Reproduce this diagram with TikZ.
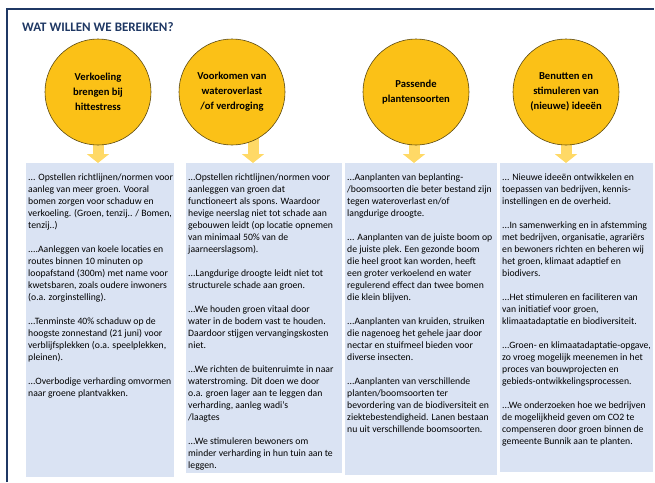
\documentclass[tikz,border=0pt]{standalone}
\usepackage{fontspec}
\setmainfont{Carlito}
\usetikzlibrary{arrows.meta,backgrounds}
\definecolor{navy}{HTML}{1F3864}
\definecolor{goud}{HTML}{FBC117}
\definecolor{lichtgoud}{HTML}{FFD966}
\definecolor{lichtblauw}{HTML}{DAE3F3}
\definecolor{rand}{HTML}{5C4A12}

\begin{document}
\begin{tikzpicture}
        [%%%%%%%%%%%%%%%%%%%%%%%%%%%%%%
        x=1pt, y=-1pt,
        kader/.style={draw=navy, line width=1.6pt},
        titel/.style={font=\fontsize{13}{15}\selectfont\bfseries, text=navy, inner sep=0pt, anchor=west},
        doel/.style={circle, draw=rand, fill=goud, line width=0.6pt, minimum size=106pt, inner sep=0pt,
          align=center, font=\fontsize{10.6}{15}\selectfont\bfseries},
        vak/.style={fill=lichtblauw, inner sep=0pt, anchor=north west},
        tekst/.style={inner sep=0pt, anchor=north west, align=left, font=\fontsize{9.7}{12}\selectfont},
        pijl/.style={draw=lichtgoud, line width=11pt, -{Triangle[width=22pt,length=9pt]}},
        ]%%%%%%%%%%%%%%%%%%%%%%%%%%%%%%
        \useasboundingbox (0,0) rectangle (655,482);
        % Frame and title
        \draw[kader] (7,482) -- (7,9) -- (654,9);
        \node[titel] (titel) at (22,27) {WAT WILLEN WE BEREIKEN?};
        % Goals
        \foreach \i/\x/\t in {1/98/{Verkoeling\\brengen bij\\hittestress},
                              2/232/{Voorkomen van\\wateroverlast\\/of verdroging},
                              3/416/{Passende\\plantensoorten},
                              4/566/{Benutten en\\stimuleren van\\(nieuwe) ideeën}}{
          \node[doel] (doel\i) at (\x,92) {\t};
        }
        % Blue boxes
        \node[vak, minimum width=148pt, minimum height=314pt] (box1) at (26,163) {};
        \node[vak, minimum width=156pt, minimum height=310pt] (box2) at (186,163) {};
        \node[vak, minimum width=152pt, minimum height=312pt] (box3) at (345,163) {};
        \node[vak, minimum width=153pt, minimum height=309pt] (box4) at (500,163) {};
        % Arrows
        \begin{scope}[on background layer]
          \foreach \i/\dx in {1/0,2/21,3/-2,4/0}{
            \draw[pijl] ([xshift=\dx pt, yshift=8pt]doel\i.south) -- ([xshift=\dx pt]doel\i.south |- box\i.north);
          }
        \end{scope}
        % Text
        \node[tekst] (tekst1) at ([xshift=2pt, yshift=-11pt]box1.north west) {%
          ... Opstellen richtlijnen/normen voor\\
          aanleg van meer groen. Vooral\\
          bomen zorgen voor schaduw en\\
          verkoeling. (Groen, tenzij.. / Bomen,\\
          tenzij..)\\[12pt]
          ....Aanleggen van koele locaties en\\
          routes binnen 10 minuten op\\
          loopafstand (300m) met name voor\\
          kwetsbaren, zoals oudere inwoners\\
          (o.a. zorginstelling).\\[12pt]
          ...Tenminste 40\% schaduw op de\\
          hoogste zonnestand (21 juni) voor\\
          verblijfsplekken (o.a. speelplekken,\\
          pleinen).\\[12pt]
          ...Overbodige verharding omvormen\\
          naar groene plantvakken.};
        \node[tekst] (tekst2) at ([xshift=2pt, yshift=-11pt]box2.north west) {%
          ...Opstellen richtlijnen/normen voor\\
          aanleggen van groen dat\\
          functioneert als spons. Waardoor\\
          hevige neerslag niet tot schade aan\\
          gebouwen leidt (op locatie opnemen\\
          van minimaal 50\% van de\\
          jaarneerslagsom).\\[12pt]
          ...Langdurige droogte leidt niet tot\\
          structurele schade aan groen.\\[12pt]
          ...We houden groen vitaal door\\
          water in de bodem vast te houden.\\
          Daardoor stijgen vervangingskosten\\
          niet.\\[12pt]
          ...We richten de buitenruimte in naar\\
          waterstroming. Dit doen we door\\
          o.a. groen lager aan te leggen dan\\
          verharding, aanleg wadi’s\\
          /laagtes\\[12pt]
          ...We stimuleren bewoners om\\
          minder verharding in hun tuin aan te\\
          leggen.};
        \node[tekst] (tekst3) at ([xshift=2pt, yshift=-11pt]box3.north west) {%
          ...Aanplanten van beplanting-\\
          /boomsoorten die beter bestand zijn\\
          tegen wateroverlast en/of\\
          langdurige droogte.\\[12pt]
          ... Aanplanten van de juiste boom op\\
          de juiste plek. Een gezonde boom\\
          die heel groot kan worden, heeft\\
          een groter verkoelend en water\\
          regulerend effect dan twee bomen\\
          die klein blijven.\\[12pt]
          ...Aanplanten van kruiden, struiken\\
          die nagenoeg het gehele jaar door\\
          nectar en stuifmeel bieden voor\\
          diverse insecten.\\[12pt]
          ...Aanplanten van verschillende\\
          planten/boomsoorten ter\\
          bevordering van de biodiversiteit en\\
          ziektebestendigheid. Lanen bestaan\\
          nu uit verschillende boomsoorten.};
        \node[tekst] (tekst4) at ([xshift=2pt, yshift=-11pt]box4.north west) {%
          ... Nieuwe ideeën ontwikkelen en\\
          toepassen van bedrijven, kennis-\\
          instellingen en de overheid.\\[12pt]
          ...In samenwerking en in afstemming\\
          met bedrijven, organisatie, agrariërs\\
          en bewoners richten en beheren wij\\
          het groen, klimaat adaptief en\\
          biodivers.\\[12pt]
          ...Het stimuleren en faciliteren van\\
          van initiatief voor groen,\\
          klimaatadaptatie en biodiversiteit.\\[12pt]
          ...Groen- en klimaatadaptatie-opgave,\\
          zo vroeg mogelijk meenemen in het\\
          proces van bouwprojecten en\\
          gebieds-ontwikkelingsprocessen.\\[12pt]
          ...We onderzoeken hoe we bedrijven\\
          de mogelijkheid geven om CO2 te\\
          compenseren door groen binnen de\\
          gemeente Bunnik aan te planten.};
\end{tikzpicture}
\end{document}
